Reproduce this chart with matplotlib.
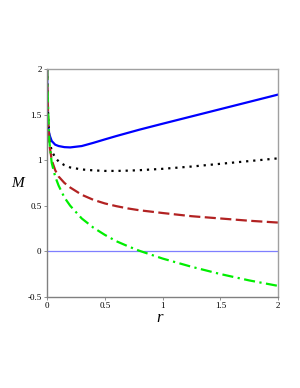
import matplotlib
matplotlib.use("Agg")
import matplotlib.pyplot as plt

# values (r, M)
r_vals = [0.0005, 0.002, 0.005, 0.01, 0.02, 0.04, 0.07, 0.1, 0.15, 0.2, 0.3,
          0.4, 0.5, 0.6, 0.7, 0.8, 1.0, 1.25, 1.5, 1.75, 2.0]
m_blue = [2.0, 1.62, 1.47, 1.36, 1.28, 1.21, 1.17, 1.155, 1.143, 1.14, 1.155,
          1.19, 1.228, 1.265, 1.30, 1.335, 1.40, 1.48, 1.56, 1.64, 1.72]
m_black = [2.0, 1.85, 1.7, 1.45, 1.22, 1.1, 1.03, 0.985, 0.945, 0.92, 0.898,
           0.888, 0.882, 0.882, 0.885, 0.89, 0.905, 0.93, 0.96, 0.99, 1.02]
m_brown = [2.0, 1.85, 1.7, 1.42, 1.17, 1.0, 0.89, 0.82, 0.75, 0.70, 0.62,
           0.565, 0.525, 0.495, 0.47, 0.45, 0.42, 0.385, 0.36, 0.335, 0.315]
m_green = [2.0, 1.9, 1.75, 1.5, 1.2, 0.97, 0.82, 0.72, 0.59, 0.5, 0.36,
           0.26, 0.18, 0.11, 0.055, 0.005, -0.08, -0.17, -0.25, -0.32, -0.38]

xticks = [0, 0.5, 1, 1.5, 2]
yticks = [-0.5, 0, 0.5, 1, 1.5, 2]

fig = plt.figure(figsize=(3.0, 3.88), dpi=100)
ax = fig.add_axes([0.157, 0.235, 0.77, 0.587])

ax.axhline(0, color="#7f7fff", lw=0.9)
ax.plot(r_vals, m_blue, color="blue", lw=1.6)
ax.plot(r_vals, m_black, color="black", lw=1.6, linestyle=(0, (1, 2.2)))
ax.plot(r_vals, m_brown, color="#b22222", lw=1.6, linestyle=(0, (5, 2)))
ax.plot(r_vals, m_green, color="#00ee00", lw=1.6, linestyle=(0, (5, 2, 1, 2)))

ax.set_xlim(0, 2)
ax.set_ylim(-0.5, 2)
ax.set_xticks(xticks)
ax.set_xticklabels(["0", "0.5", "1", "1.5", "2"])
ax.set_yticks(yticks)
ax.set_yticklabels(["-0.5", "0", "0.5", "1", "1.5", "2"])
ax.tick_params(labelsize=6.5, length=2, width=0.6, color="#808080", pad=2)
for lab in ax.get_xticklabels() + ax.get_yticklabels():
    lab.set_family("Liberation Serif")

for side in ["left", "bottom"]:
    ax.spines[side].set_color("#808080")
    ax.spines[side].set_linewidth(1.0)
for side in ["top", "right"]:
    ax.spines[side].set_color("#a0a0a0")
    ax.spines[side].set_linewidth(1.0)

fig.text(0.06, 0.528, "M", fontsize=11, style="italic", family="Liberation Serif",
         ha="center", va="center")
fig.text(0.533, 0.18, "r", fontsize=12, style="italic", family="Liberation Serif",
         ha="center", va="center")

fig.savefig("out.png", dpi=100)
